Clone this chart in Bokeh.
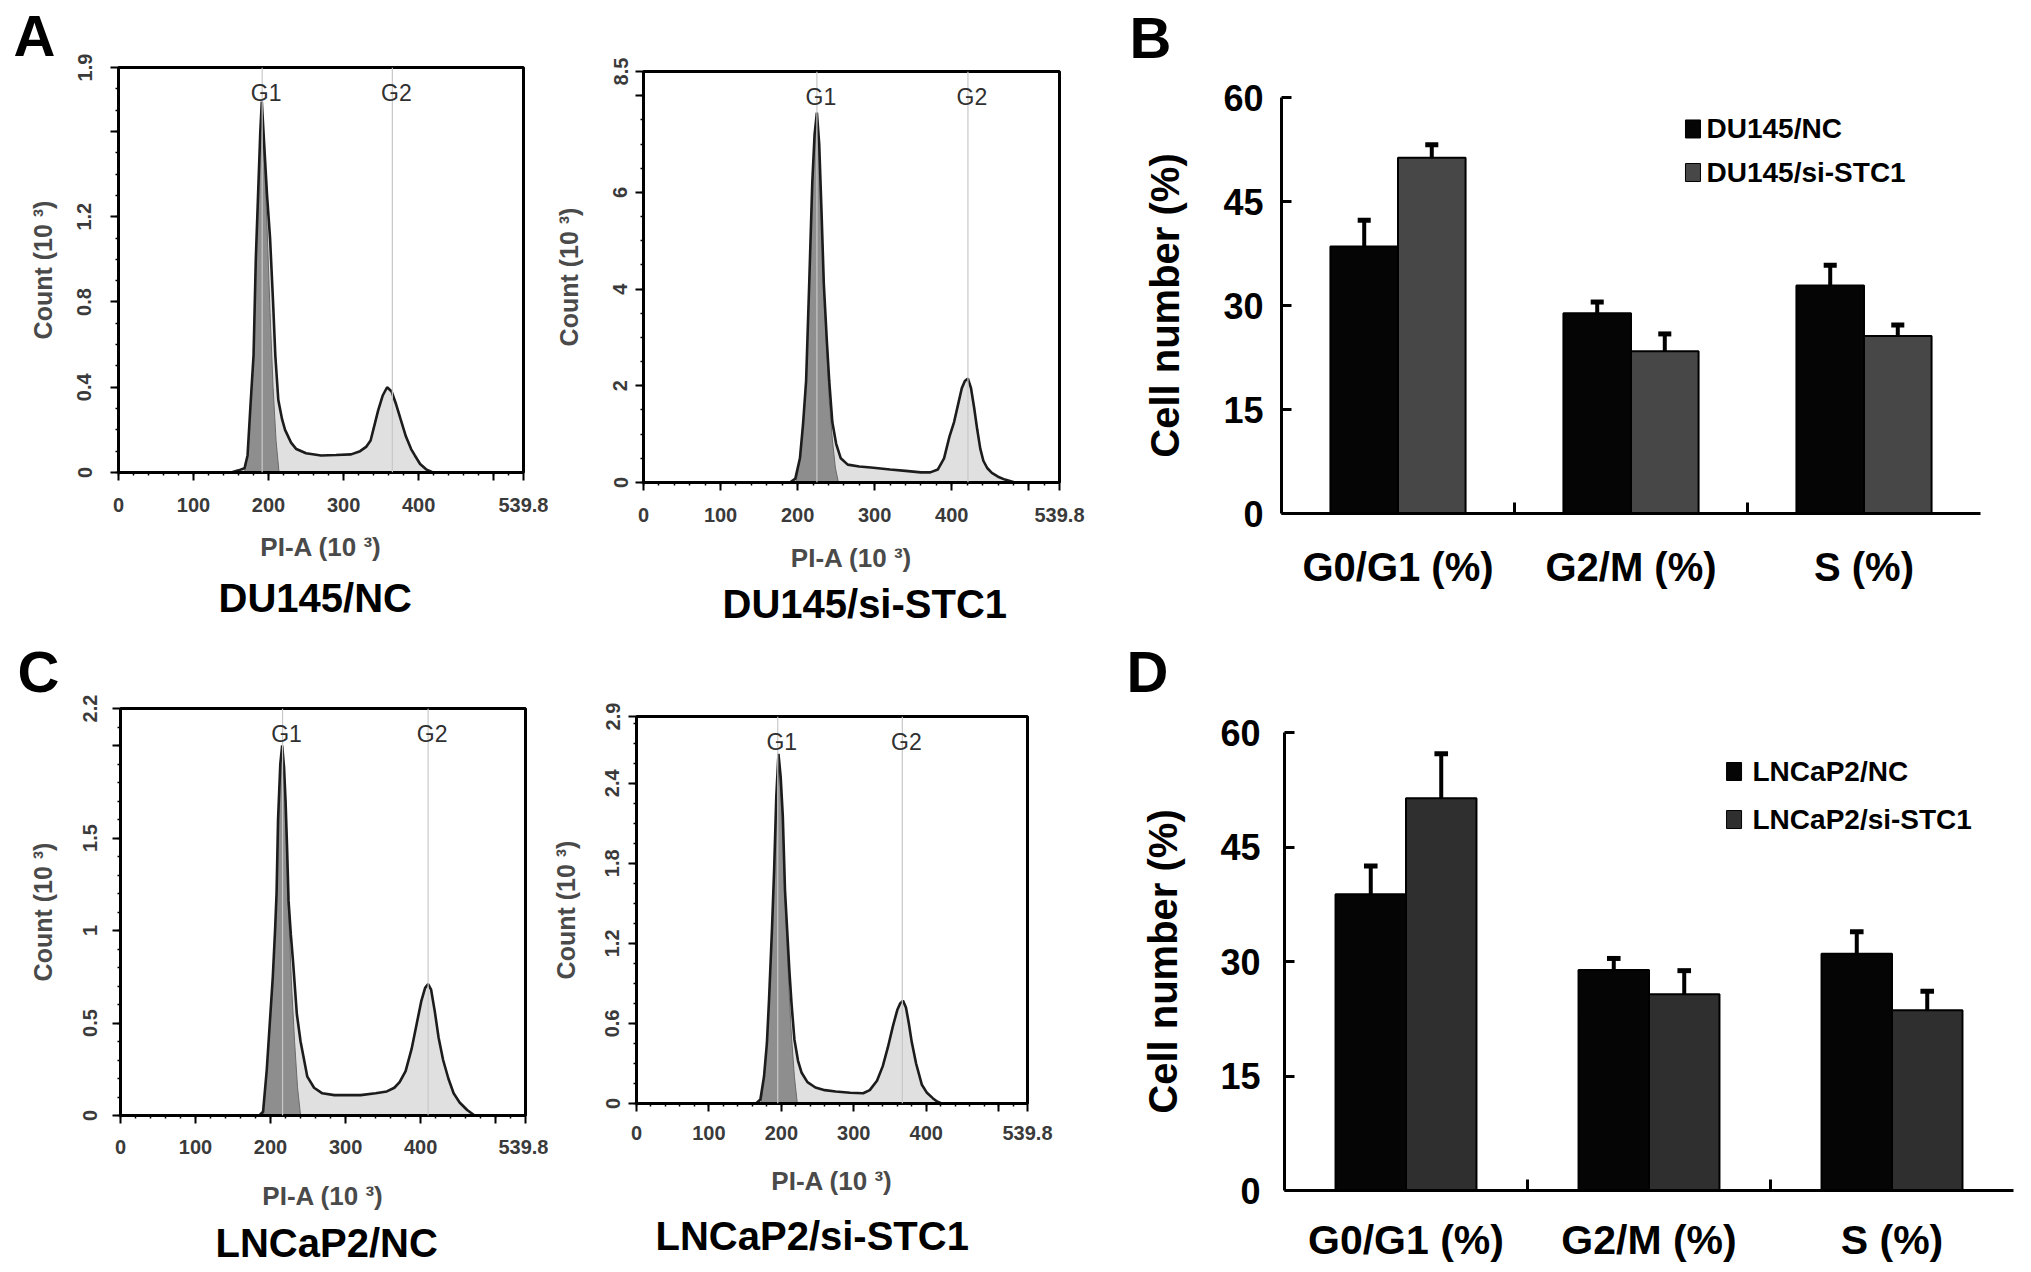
import numpy as np
from bokeh.plotting import figure
from bokeh.models import (ColumnDataSource, FactorRange, FixedTicker, Label, Range1d, Span, Title)
from bokeh.layouts import row, column
from bokeh.transform import dodge
from bokeh.core.properties import value
from bokeh.embed import file_html
from bokeh.resources import INLINE

FONT = "Liberation Sans"

# ---------------- flow cytometry histograms: PI-A (10^3) vs Count (10^3) ----------------
du145_nc_x = [0, 150, 160, 168, 172, 176, 180, 183, 186, 189, 191, 194, 198, 202, 206, 209, 213, 218, 222, 230,
              237, 250, 270, 290, 310, 322, 330, 336, 341, 346, 352, 358, 364, 370, 376, 383, 390, 395, 402, 410,
              419, 430, 539.8]
du145_nc_y = [0, 0, 0.01, 0.02, 0.08, 0.32, 0.55, 1.0, 1.3, 1.6, 1.74, 1.55, 1.3, 1.1, 0.8, 0.55, 0.34, 0.25, 0.2, 0.14,
              0.11, 0.09, 0.08, 0.082, 0.085, 0.1, 0.12, 0.15, 0.22, 0.29, 0.36, 0.4, 0.38, 0.32, 0.25, 0.17, 0.11, 0.08, 0.04, 0.015,
              0, 0, 0]
du145_nc_g1_x = [168, 172, 176, 180, 183, 186, 189, 191, 194, 198, 202, 206, 210, 214]
du145_nc_g1_y = [0, 0.08, 0.32, 0.55, 1.0, 1.3, 1.6, 1.72, 1.5, 1.15, 0.75, 0.4, 0.15, 0]
du145_nc_peaks = [191.5, 365]

du145_si_x = [0, 190, 197, 203, 207, 211, 215, 219, 222, 225, 228, 231, 234, 238, 241, 245, 250, 256, 265, 280,
              295, 320, 340, 360, 372, 382, 390, 397, 403, 408, 413, 417, 421, 425, 429, 433, 437, 441, 446, 452,
              460, 469, 482, 539.8]
du145_si_y = [0, 0, 0.08, 0.5, 1.2, 2.1, 4.1, 6.2, 7.2, 7.65, 7.0, 5.6, 4.1, 2.9, 2.1, 1.25, 0.8, 0.5, 0.37, 0.33,
              0.31, 0.27, 0.24, 0.21, 0.21, 0.27, 0.5, 0.95, 1.25, 1.6, 1.95, 2.1, 2.15, 1.95, 1.55, 1.1, 0.7, 0.45, 0.3, 0.2,
              0.12, 0.06, 0, 0]
du145_si_g1_x = [198, 203, 207, 211, 215, 219, 222, 225, 228, 231, 234, 238, 241, 245, 249, 253]
du145_si_g1_y = [0, 0.5, 1.2, 2.1, 4.1, 6.2, 7.2, 7.6, 6.9, 5.5, 4.0, 2.7, 1.7, 0.9, 0.3, 0]
du145_si_peaks = [225, 421]

lncap_nc_x = [0, 185, 190, 195, 199, 203, 206, 208, 210, 213, 215.5, 218, 220, 222, 224, 227, 230, 235, 240, 249,
              258, 269, 285, 300, 320, 340, 355, 365, 372, 380, 388, 395, 401, 406, 410, 414, 419, 424, 430, 437,
              444, 452, 462, 472, 539.8]
lncap_nc_y = [0, 0, 0.02, 0.25, 0.5, 0.75, 1.0, 1.2, 1.6, 1.9, 2.0, 1.88, 1.7, 1.45, 1.16, 0.98, 0.83, 0.55, 0.4, 0.21,
              0.15, 0.12, 0.11, 0.11, 0.11, 0.12, 0.13, 0.15, 0.18, 0.24, 0.36, 0.5, 0.62, 0.69, 0.71, 0.68, 0.56, 0.42, 0.3, 0.2,
              0.12, 0.07, 0.03, 0, 0]
lncap_nc_g1_x = [190, 195, 199, 203, 206, 208, 210, 213, 215.5, 218, 220, 224, 228, 232, 236, 240]
lncap_nc_g1_y = [0, 0.25, 0.5, 0.75, 1.0, 1.2, 1.6, 1.9, 1.98, 1.85, 1.65, 1.1, 0.7, 0.4, 0.15, 0]
lncap_nc_peaks = [216, 410]

lncap_si_x = [0, 165, 171, 176, 180, 183, 187, 190, 193, 196, 199, 202, 205, 208, 211, 214, 218, 223, 228, 236,
              247, 260, 275, 295, 313, 322, 332, 340, 347, 354, 360, 364, 368, 372, 376, 380, 386, 394, 401, 409,
              415, 421, 539.8]
lncap_si_y = [0, 0, 0.03, 0.2, 0.45, 0.78, 1.3, 1.75, 2.3, 2.62, 2.45, 2.15, 1.6, 1.3, 1.0, 0.75, 0.48, 0.32, 0.23, 0.16,
              0.12, 0.1, 0.09, 0.08, 0.077, 0.1, 0.17, 0.28, 0.42, 0.58, 0.7, 0.75, 0.77, 0.72, 0.6, 0.46, 0.3, 0.14, 0.08, 0.04,
              0.015, 0, 0]
lncap_si_g1_x = [172, 176, 180, 183, 187, 190, 193, 196, 199, 202, 205, 208, 211, 214, 218, 222]
lncap_si_g1_y = [0, 0.2, 0.45, 0.78, 1.3, 1.75, 2.3, 2.6, 2.4, 2.1, 1.55, 1.15, 0.8, 0.5, 0.2, 0]
lncap_si_peaks = [195, 367]

x_ticks = [0, 100, 200, 300, 400, 500, 539.8]
x_tick_labels = ["0", "100", "200", "300", "400", "", "539.8"]

# ---------------- bar charts: cell-cycle distribution ----------------
phases = ["G0/G1 (%)", "G2/M (%)", "S (%)"]
du145_nc_pct = [38.5, 28.9, 32.9]
du145_nc_err = [3.8, 1.6, 2.9]
du145_si_pct = [51.3, 23.4, 25.6]
du145_si_err = [1.9, 2.5, 1.6]
lncap_nc_pct = [38.8, 28.9, 31.0]
lncap_nc_err = [3.7, 1.5, 2.9]
lncap_si_pct = [51.4, 25.7, 23.6]
lncap_si_err = [5.8, 3.1, 2.5]
pct_ticks = [0, 15, 30, 45, 60]


def set_letter(p, letter, offset, standoff, spacer=None):
    if spacer is not None:
        # blank white spacer title next to the frame; the plot title (letter) sits outside it
        p.add_layout(Title(text=" ", text_color="white", text_font_size="10px", standoff=spacer), "above")
    p.title.text = letter
    p.title.align = "left"
    p.title.offset = offset
    p.title.standoff = standoff
    p.title.text_font = FONT
    p.title.text_font_size = "58px"
    p.title.text_font_style = "bold"
    p.title.text_color = "black"


def histogram(w, h, border, xs, ys, g1x, g1y, peaks, ymax, yticks, ylabels, yminor,
              title, title_offset, title_standoff, ystand, ylab_stand, xstand, xlab_stand,
              letter=None, letter_offset=0, letter_standoff=0):
    l, r, t, b = border
    p = figure(width=w, height=h, x_range=Range1d(0, 539.8), y_range=Range1d(0, ymax),
               output_backend="svg", toolbar_location=None, frame_align=False,
               min_border_left=l, min_border_right=r, min_border_top=t, min_border_bottom=b)
    p.grid.visible = False
    p.outline_line_color = "black"
    p.outline_line_width = 3
    p.varea(x=xs, y1=[0] * len(xs), y2=ys, fill_color="#e0e0e0")
    p.varea(x=g1x, y1=[0] * len(g1x), y2=g1y, fill_color="#8e8e8e")
    p.line(x=g1x, y=g1y, line_color="#6a6a6a", line_width=1)
    p.line(x=xs, y=ys, line_color="#1c1c1c", line_width=2.6)
    for pk, name in zip(peaks, ["G1", "G2"]):
        p.add_layout(Span(location=pk, dimension="height", line_color="#c8c8c8", line_width=1.2))
        p.add_layout(Label(x=pk, y=ymax, x_offset=4, y_offset=-25, text=name, text_font=FONT,
                           text_font_size="23px", text_color="#303030",
                           text_align="center", text_baseline="middle"))

    xa = p.xaxis[0]
    xa.ticker = FixedTicker(ticks=x_ticks, minor_ticks=list(np.arange(0, 540, 20)))
    xa.major_label_overrides = dict(zip(x_ticks, x_tick_labels))
    xa.axis_label = "PI-A (10 ³)"
    xa.major_label_standoff = xstand
    xa.axis_label_standoff = xlab_stand
    xa.axis_label_text_font_size = "26px"

    ya = p.yaxis[0]
    ya.ticker = FixedTicker(ticks=yticks, minor_ticks=list(yminor))
    ya.major_label_overrides = dict(zip(yticks, ylabels))
    ya.major_label_orientation = "vertical"
    ya.axis_label = "Count (10 ³)"
    ya.major_label_standoff = ystand
    ya.axis_label_standoff = ylab_stand
    ya.axis_label_text_font_size = "25px"

    for ax in (xa, ya):
        ax.axis_line_width = 3
        ax.axis_line_color = "black"
        ax.major_tick_in = 0
        ax.major_tick_out = 8
        ax.major_tick_line_width = 2
        ax.minor_tick_in = 0
        ax.minor_tick_out = 3
        ax.minor_tick_line_width = 1.5
        ax.major_label_text_font = FONT
        ax.major_label_text_font_size = "20px"
        ax.major_label_text_font_style = "bold"
        ax.major_label_text_color = "#3a3a3a"
        ax.axis_label_text_font = FONT
        ax.axis_label_text_font_style = "bold"
        ax.axis_label_text_color = "#4a4a4a"

    p.add_layout(Title(text=title, align="left", offset=title_offset, standoff=title_standoff,
                       text_font=FONT, text_font_size="40px", text_font_style="bold",
                       text_color="black"), "below")
    if letter:
        set_letter(p, letter, letter_offset, letter_standoff)
    else:
        p.title.text = ""
        p.title.standoff = 0
    return p


def bar_chart(w, h, border, nc, nc_err, si, si_err, si_color, names, px_per_unit,
              leg_x, leg_text_x, leg_y, letter, letter_offset, letter_standoff, spacer,
              tick_stand, lab_stand, cat_stand, cat_size):
    l, r, t, b = border
    p = figure(width=w, height=h, x_range=FactorRange(factors=phases, range_padding=0),
               y_range=Range1d(0, 60), output_backend="svg", toolbar_location=None, frame_align=False,
               min_border_left=l, min_border_right=r, min_border_top=t, min_border_bottom=b)
    p.grid.visible = False
    p.outline_line_color = None
    src = ColumnDataSource(dict(phase=phases, nc=nc, si=si,
                                nc_top=[m + e for m, e in zip(nc, nc_err)],
                                si_top=[m + e for m, e in zip(si, si_err)]))
    off, bw, cap = 0.145, 0.29, 0.028
    colors = ["#050505", si_color]
    for sign, col, top, color in ((-1, "nc", "nc_top", colors[0]), (1, "si", "si_top", colors[1])):
        xx = dodge("phase", sign * off, range=p.x_range)
        p.vbar(x=xx, top=col, width=bw, source=src, fill_color=color,
               line_color="black", line_width=2)
        p.segment(x0=xx, y0=col, x1=xx, y1=top, source=src, line_color="black", line_width=4)
        p.segment(x0=dodge("phase", sign * off - cap, range=p.x_range), y0=top,
                  x1=dodge("phase", sign * off + cap, range=p.x_range), y1=top,
                  source=src, line_color="black", line_width=5)
    # small category-boundary ticks on the x axis
    tick_h = 11 / px_per_unit
    p.segment(x0=[1, 2], y0=[0, 0], x1=[1, 2], y1=[tick_h, tick_h], line_color="black", line_width=3)

    # legend (drawn inside the frame)
    p.rect(x=[leg_x, leg_x], y=leg_y, width=15, height=18, width_units="screen", height_units="screen",
           fill_color=colors, line_color="black", line_width=1)
    p.text(x=[leg_text_x, leg_text_x], y=leg_y, text=names, text_font=value(FONT),
           text_font_size="28px", text_font_style="bold", text_color="black",
           text_baseline="middle", text_align="left")

    xa = p.xaxis[0]
    xa.major_tick_line_color = None
    xa.major_label_standoff = cat_stand
    xa.major_label_text_font_size = cat_size
    ya = p.yaxis[0]
    ya.ticker = FixedTicker(ticks=pct_ticks)
    ya.major_tick_in = 10
    ya.major_tick_out = 0
    ya.major_tick_line_width = 3
    ya.minor_tick_line_color = None
    ya.major_label_standoff = tick_stand
    ya.major_label_text_font_size = "36px"
    ya.axis_label = "Cell number (%)"
    ya.axis_label_standoff = lab_stand
    ya.axis_label_text_font = FONT
    ya.axis_label_text_font_size = "40px"
    ya.axis_label_text_font_style = "bold"
    ya.axis_label_text_color = "black"
    for ax in (xa, ya):
        ax.axis_line_width = 3
        ax.axis_line_color = "black"
        ax.major_label_text_font = FONT
        ax.major_label_text_font_style = "bold"
        ax.major_label_text_color = "black"

    set_letter(p, letter, letter_offset, letter_standoff, spacer)
    return p


pA1 = histogram(548, 630, (118, 25, 67, 158), du145_nc_x, du145_nc_y, du145_nc_g1_x, du145_nc_g1_y,
                du145_nc_peaks, 1.9, [0, 0.4, 0.8, 1.2, 1.6, 1.9], ["0", "0.4", "0.8", "1.2", "", "1.9"],
                np.arange(0, 1.9, 0.1), "DU145/NC", 100, 18, 19, 18, 17, 17,
                letter="A", letter_offset=-105, letter_standoff=0)
pA2 = histogram(552, 630, (95, 41, 71, 148), du145_si_x, du145_si_y, du145_si_g1_x, du145_si_g1_y,
                du145_si_peaks, 8.5, [0, 2, 4, 6, 8, 8.5], ["0", "2", "4", "6", "", "8.5"],
                np.arange(0, 8.5, 0.5), "DU145/si-STC1", 79, 8, 8, 28, 17, 18)
pB = bar_chart(925, 630, (181, 45, 97, 117), du145_nc_pct, du145_nc_err, du145_si_pct, du145_si_err,
               "#474747", ["DU145/NC", "DU145/si-STC1"], 416 / 60,
               1.766, 1.824, [55.46, 49.18], "B", -152, 4, 13, 18, 33, 25, "40px")
pC1 = histogram(548, 641, (120, 23, 78, 156), lncap_nc_x, lncap_nc_y, lncap_nc_g1_x, lncap_nc_g1_y,
                lncap_nc_peaks, 2.2, [0, 0.5, 1, 1.5, 2, 2.2], ["0", "0.5", "1", "1.5", "", "2.2"],
                np.arange(0, 2.2, 0.1), "LNCaP2/NC", 95, 11, 16, 23, 16, 24,
                letter="C", letter_offset=-103, letter_standoff=9)
pC2 = histogram(552, 641, (88, 73, 86, 168), lncap_si_x, lncap_si_y, lncap_si_g1_x, lncap_si_g1_y,
                lncap_si_peaks, 2.9, [0, 0.6, 1.2, 1.8, 2.4, 2.9], ["0", "0.6", "1.2", "1.8", "2.4", "2.9"],
                np.arange(0, 2.9, 0.15), "LNCaP2/si-STC1", 19, 27, 9, 23, 14, 23)
pD = bar_chart(925, 641, (184, 12, 102, 81), lncap_nc_pct, lncap_nc_err, lncap_si_pct, lncap_si_err,
               "#2f2f2f", ["LNCaP2/NC", "LNCaP2/si-STC1"], 458 / 60,
               1.850, 1.926, [54.89, 48.6], "D", -158, 12, 10, 24, 32, 20, "41px")

layout = column(row(pA1, pA2, pB), row(pC1, pC2, pD))
open("out.html", "w").write(file_html(layout, INLINE, "Cell cycle analysis"))
